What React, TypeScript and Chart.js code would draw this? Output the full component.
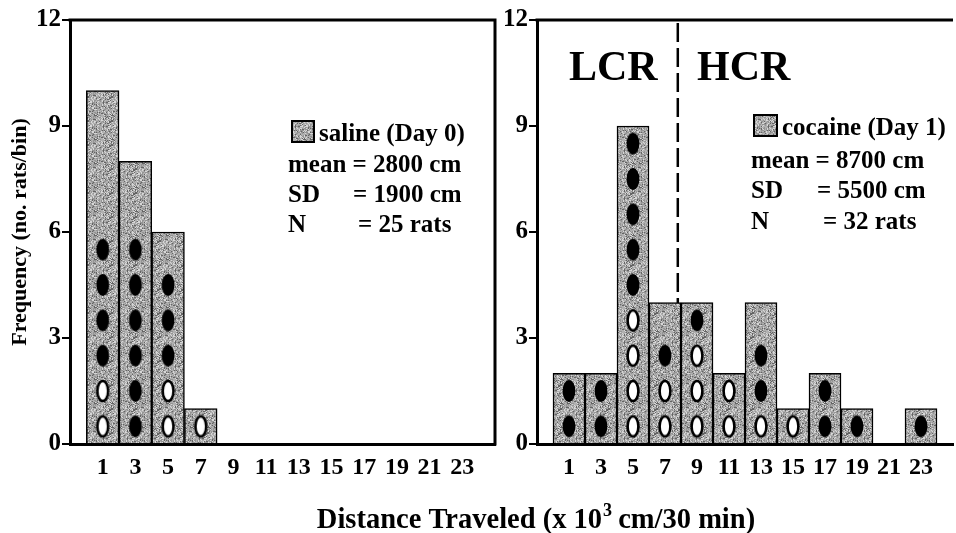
import React, { useEffect, useRef } from 'react';
import { Chart, registerables } from 'chart.js';

Chart.register(...registerables);

// ---------- data ----------
const binCenters = [1, 3, 5, 7, 9, 11, 13, 15, 17, 19, 21, 23];
const salineCounts = [10, 8, 6, 1, 0, 0, 0, 0, 0, 0, 0, 0];
const cocaineCounts = [2, 2, 9, 4, 4, 2, 4, 1, 2, 1, 0, 1];
// rat markers stacked from the bottom of each bin: B = black oval, W = white oval
const salineMarks = ['WWBBBB', 'BBBBBB', 'WWBBB', 'W', '', '', '', '', '', '', '', ''];
const cocaineMarks = ['BB', 'BB', 'WWWWBBBBB', 'WWB', 'WWWB', 'WW', 'WBB', 'W', 'BB', 'B', '', 'B'];
const yTicks = [0, 3, 6, 9, 12];
const salineLegend = ['saline (Day 0)', 'mean = 2800 cm', 'SD', '= 1900 cm', 'N', '= 25 rats'];
const cocaineLegend = ['cocaine (Day 1)', 'mean = 8700 cm', 'SD', '= 5500 cm', 'N', '= 32 rats'];
const groupLabels = ['LCR', 'HCR'];
const groupSplit = 7.8; // distance value of the LCR / HCR cut
const yTitle = 'Frequency (no. rats/bin)';
const xTitleParts = ['Distance Traveled (x 10', '3', ' cm/30 min)'];

const FONT = "'Liberation Serif', 'Times New Roman', Times, serif";

function makeStipple(): CanvasPattern | string {
  const c = document.createElement('canvas');
  c.width = 24;
  c.height = 24;
  const ctx = c.getContext('2d');
  if (!ctx) return '#a4a4a4';
  const img = ctx.createImageData(24, 24);
  let s = 987654321;
  for (let i = 0; i < 24 * 24; i++) {
    s = (Math.imul(s, 1103515245) + 12345) >>> 0;
    const r = (s >>> 16) % 100;
    const v = r < 15 ? 100 : r < 45 ? 148 : r < 80 ? 176 : 215;
    img.data[i * 4] = v;
    img.data[i * 4 + 1] = v;
    img.data[i * 4 + 2] = v;
    img.data[i * 4 + 3] = 255;
  }
  ctx.putImageData(img, 0, 0);
  return ctx.createPattern(c, 'repeat') || '#a4a4a4';
}

function makeOval(black: boolean): HTMLCanvasElement {
  const c = document.createElement('canvas');
  c.width = 16;
  c.height = 26;
  const ctx = c.getContext('2d')!;
  ctx.beginPath();
  if (black) {
    ctx.ellipse(8, 13, 6.4, 11, 0, 0, Math.PI * 2);
    ctx.fillStyle = '#000';
    ctx.fill();
  } else {
    ctx.ellipse(8, 13, 5.4, 10, 0, 0, Math.PI * 2);
    ctx.fillStyle = '#fff';
    ctx.fill();
    ctx.lineWidth = 2.6;
    ctx.strokeStyle = '#000';
    ctx.stroke();
  }
  return c;
}

function markPoints(marks: string[], code: string) {
  const pts: { x: number; y: number }[] = [];
  marks.forEach((m, i) => {
    m.split('').forEach((c, k) => {
      if (c === code) pts.push({ x: binCenters[i], y: k + 0.5 });
    });
  });
  return pts;
}

type PanelOpts = {
  counts: number[];
  marks: string[];
  legend: string[];
  offsetX: number; // canvas left on page
  yWidth: number;
  padLeft: number;
  padRight: number;
  showYTitle: boolean;
  showXTitle: boolean;
  rightBorder: boolean;
  swatch: [number, number, number, number];
  titlePos: [number, number];
  linePos: [number, number][];
  groups: boolean;
  stipple: CanvasPattern | string;
  blackOval: HTMLCanvasElement;
  whiteOval: HTMLCanvasElement;
};

function buildConfig(o: PanelOpts): any {
  const ox = o.offsetX;
  const decor = {
    id: 'decor' + ox,
    beforeDatasetsDraw(chart: any) {
      if (!o.groups) return;
      const { ctx, chartArea, scales } = chart;
      const x = scales.x.getPixelForValue(groupSplit);
      ctx.save();
      ctx.strokeStyle = '#000';
      ctx.lineWidth = 2.5;
      ctx.setLineDash([19, 6]);
      ctx.beginPath();
      ctx.moveTo(x, chartArea.top + 3);
      ctx.lineTo(x, chartArea.bottom);
      ctx.stroke();
      ctx.restore();
    },
    afterDraw(chart: any) {
      const { ctx, chartArea } = chart;
      ctx.save();
      ctx.strokeStyle = '#000';
      ctx.lineWidth = 3;
      ctx.beginPath();
      ctx.moveTo(chartArea.left - 1.5, chartArea.top);
      ctx.lineTo(chartArea.right + (o.rightBorder ? 1.5 : 0), chartArea.top);
      if (o.rightBorder) {
        ctx.moveTo(chartArea.right, chartArea.top);
        ctx.lineTo(chartArea.right, chartArea.bottom + 1.5);
      }
      ctx.stroke();

      // legend swatch
      const [sx, sy, sw, sh] = o.swatch;
      ctx.fillStyle = o.stipple as any;
      ctx.fillRect(sx - ox, sy, sw, sh);
      ctx.lineWidth = 2;
      ctx.strokeRect(sx - ox + 1, sy + 1, sw - 2, sh - 2);

      ctx.fillStyle = '#000';
      ctx.textBaseline = 'alphabetic';
      ctx.textAlign = 'left';
      ctx.font = `bold 25px ${FONT}`;
      ctx.fillText(o.legend[0], o.titlePos[0] - ox, o.titlePos[1]);
      o.linePos.forEach((p, i) => {
        ctx.fillText(o.legend[i + 1], p[0] - ox, p[1]);
      });

      if (o.groups) {
        ctx.font = `bold 42px ${FONT}`;
        ctx.fillText(groupLabels[0], 569 - ox, 80);
        ctx.fillText(groupLabels[1], 697 - ox, 80);
      }

      if (o.showXTitle) {
        const big = `bold 28.5px ${FONT}`;
        const small = `bold 18px ${FONT}`;
        ctx.font = big;
        const w0 = ctx.measureText(xTitleParts[0]).width;
        const w2 = ctx.measureText(xTitleParts[2]).width;
        ctx.font = small;
        const w1 = ctx.measureText(xTitleParts[1]).width;
        const total = w0 + w1 + w2;
        let x = 536 - total / 2;
        const base = 528;
        ctx.font = big;
        ctx.fillText(xTitleParts[0], x, base);
        x += w0;
        ctx.font = small;
        ctx.fillText(xTitleParts[1], x + 1, base - 12);
        x += w1;
        ctx.font = big;
        ctx.fillText(xTitleParts[2], x, base);
      }
      ctx.restore();
    },
  };

  return {
    type: 'bar',
    data: {
      datasets: [
        {
          type: 'scatter',
          data: markPoints(o.marks, 'B'),
          pointStyle: o.blackOval,
          pointRadius: 6,
          order: 0,
        },
        {
          type: 'scatter',
          data: markPoints(o.marks, 'W'),
          pointStyle: o.whiteOval,
          pointRadius: 6,
          order: 0,
        },
        {
          type: 'bar',
          data: o.counts.map((c, i) => ({ x: binCenters[i], y: c })),
          backgroundColor: o.stipple,
          borderColor: '#000',
          borderWidth: 1.5,
          barPercentage: 1,
          categoryPercentage: 1,
          order: 1,
        },
      ],
    },
    options: {
      responsive: false,
      animation: false,
      events: [],
      layout: { padding: { top: 20, bottom: 44, left: o.padLeft, right: o.padRight } },
      plugins: { legend: { display: false }, tooltip: { enabled: false }, title: { display: false } },
      scales: {
        x: {
          type: 'linear',
          min: -1,
          max: 25,
          offset: false,
          afterBuildTicks: (s: any) => {
            s.ticks = binCenters.map((v) => ({ value: v }));
          },
          afterFit: (s: any) => {
            s.height = 45;
          },
          grid: { display: false, drawTicks: false },
          border: { display: true, color: '#000', width: 3 },
          ticks: {
            color: '#000',
            autoSkip: false,
            maxRotation: 0,
            padding: 9,
            font: { family: FONT, size: 24, weight: 'bold' },
          },
        },
        y: {
          type: 'linear',
          min: 0,
          max: 12,
          afterBuildTicks: (s: any) => {
            s.ticks = yTicks.map((v) => ({ value: v }));
          },
          afterFit: (s: any) => {
            s.width = o.yWidth;
          },
          grid: { drawOnChartArea: false, drawTicks: true, tickLength: 8, color: '#000', lineWidth: 2 },
          border: { display: true, color: '#000', width: 3 },
          ticks: {
            color: '#000',
            padding: 1,
            font: { family: FONT, size: 25, weight: 'bold' },
          },
          title: {
            display: o.showYTitle,
            text: yTitle,
            color: '#000',
            padding: { top: 7, bottom: 0 },
            font: { family: FONT, size: 22, weight: 'bold' },
          },
        },
      },
    },
    plugins: [decor],
  };
}

export default function App() {
  const leftRef = useRef<HTMLCanvasElement>(null);
  const rightRef = useRef<HTMLCanvasElement>(null);

  useEffect(() => {
    const stipple = makeStipple();
    const blackOval = makeOval(true);
    const whiteOval = makeOval(false);
    const left = new Chart(
      leftRef.current!,
      buildConfig({
        counts: salineCounts,
        marks: salineMarks,
        legend: salineLegend,
        offsetX: 0,
        yWidth: 70,
        padLeft: 0,
        padRight: 461,
        showYTitle: true,
        showXTitle: true,
        rightBorder: true,
        swatch: [291, 120, 24, 23],
        titlePos: [319, 141],
        linePos: [
          [288, 172],
          [288, 202],
          [353, 202],
          [288, 232],
          [358, 232],
        ],
        groups: false,
        stipple,
        blackOval,
        whiteOval,
      })
    );
    const right = new Chart(
      rightRef.current!,
      buildConfig({
        counts: cocaineCounts,
        marks: cocaineMarks,
        legend: cocaineLegend,
        offsetX: 497,
        yWidth: 40,
        padLeft: 0,
        padRight: 2,
        showYTitle: false,
        showXTitle: false,
        rightBorder: false,
        swatch: [753, 114, 25, 23],
        titlePos: [782, 135],
        linePos: [
          [751, 168],
          [751, 198],
          [817, 198],
          [751, 229],
          [823, 229],
        ],
        groups: true,
        stipple,
        blackOval,
        whiteOval,
      })
    );
    return () => {
      left.destroy();
      right.destroy();
    };
  }, []);

  return (
    <div
      style={{
        position: 'absolute',
        left: 0,
        top: 0,
        width: 956,
        height: 533,
        overflow: 'hidden',
        background: '#fff',
      }}
    >
      <canvas ref={leftRef} width={956} height={533} style={{ position: 'absolute', left: 0, top: 0 }} />
      <canvas ref={rightRef} width={463} height={533} style={{ position: 'absolute', left: 497, top: 0 }} />
    </div>
  );
}
